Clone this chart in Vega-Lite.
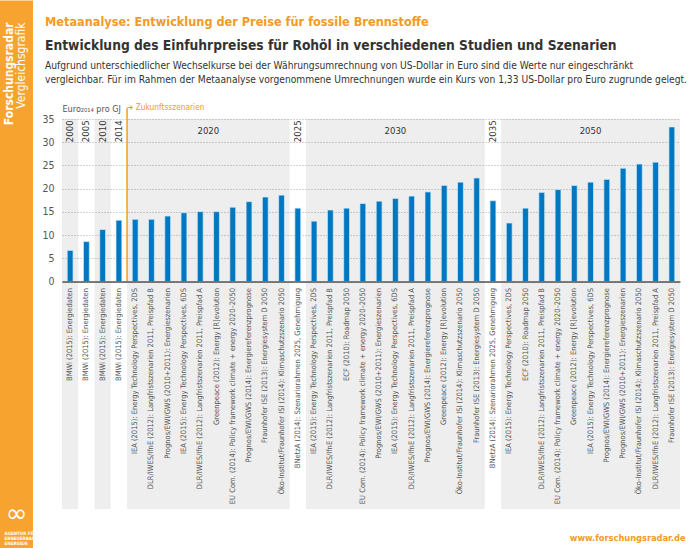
{
 "$schema": "https://vega.github.io/schema/vega-lite/v6.json",
 "background": "white",
 "padding": 0,
 "spacing": 0,
 "config": {
  "font": "DejaVu Sans Condensed, DejaVu Sans, sans-serif",
  "view": {"stroke": null},
  "concat": {"spacing": 0}
 },
 "datasets": {
  "bars": [
   {"x": "2000-01|BMWi (2015): Energiedaten", "v": 6.7},
   {"x": "2005-01|BMWi (2015): Energiedaten", "v": 8.6},
   {"x": "2010-01|BMWi (2015): Energiedaten", "v": 11.2},
   {"x": "2014-01|BMWi (2015): Energiedaten", "v": 13.2},
   {"x": "2020-01|IEA (2015): Energy Technology Perspectives, 2DS", "v": 13.4},
   {"x": "2020-02|DLR/IWES/IfnE (2012): Langfristszenarien 2011, Preispfad B", "v": 13.4},
   {"x": "2020-03|Prognos/EWI/GWS (2010+2011): Energieszenarien", "v": 14.1},
   {"x": "2020-04|IEA (2015): Energy Technology Perspectives, 6DS", "v": 14.8},
   {"x": "2020-05|DLR/IWES/IfnE (2012): Langfristszenarien 2011, Preispfad A", "v": 15.05},
   {"x": "2020-06|Greenpeace (2012): Energy [R]evolution", "v": 15.05},
   {"x": "2020-07|EU Com. (2014): Policy framework climate + energy 2020–2050", "v": 16.0},
   {"x": "2020-08|Prognos/EWI/GWS (2014): Energiereferenzprognose", "v": 17.2},
   {"x": "2020-09|Fraunhofer ISE (2013): Energiesystem D 2050", "v": 18.2},
   {"x": "2020-10|Öko-Institut/Fraunhofer ISI (2014): Klimaschutzszenario 2050", "v": 18.6},
   {"x": "2025-01|BNetzA (2014): Szenariorahmen 2025, Genehmigung", "v": 15.8},
   {"x": "2030-01|IEA (2015): Energy Technology Perspectives, 2DS", "v": 13.0},
   {"x": "2030-02|DLR/IWES/IfnE (2012): Langfristszenarien 2011, Preispfad B", "v": 15.4},
   {"x": "2030-03|ECF (2010): Roadmap 2050", "v": 15.8},
   {"x": "2030-04|EU Com. (2014): Policy framework climate + energy 2020–2050", "v": 16.8},
   {"x": "2030-05|Prognos/EWI/GWS (2010+2011): Energieszenarien", "v": 17.3},
   {"x": "2030-06|IEA (2015): Energy Technology Perspectives, 6DS", "v": 17.9},
   {"x": "2030-07|DLR/IWES/IfnE (2012): Langfristszenarien 2011, Preispfad A", "v": 18.4},
   {"x": "2030-08|Prognos/EWI/GWS (2014): Energiereferenzprognose", "v": 19.3},
   {"x": "2030-09|Greenpeace (2012): Energy [R]evolution", "v": 20.7},
   {"x": "2030-10|Öko-Institut/Fraunhofer ISI (2014): Klimaschutzszenario 2050", "v": 21.4},
   {"x": "2030-11|Fraunhofer ISE (2013): Energiesystem D 2050", "v": 22.3},
   {"x": "2035-01|BNetzA (2014): Szenariorahmen 2025, Genehmigung", "v": 17.4},
   {"x": "2050-01|IEA (2015): Energy Technology Perspectives, 2DS", "v": 12.6},
   {"x": "2050-02|ECF (2010): Roadmap 2050", "v": 15.8},
   {"x": "2050-03|DLR/IWES/IfnE (2012): Langfristszenarien 2011, Preispfad B", "v": 19.2},
   {"x": "2050-04|EU Com. (2014): Policy framework climate + energy 2020–2050", "v": 19.8},
   {"x": "2050-05|Greenpeace (2012): Energy [R]evolution", "v": 20.7},
   {"x": "2050-06|IEA (2015): Energy Technology Perspectives, 6DS", "v": 21.4},
   {"x": "2050-07|Prognos/EWI/GWS (2014): Energiereferenzprognose", "v": 22.0},
   {"x": "2050-08|Prognos/EWI/GWS (2010+2011): Energieszenarien", "v": 24.4},
   {"x": "2050-09|Öko-Institut/Fraunhofer ISI (2014): Klimaschutzszenario 2050", "v": 25.3},
   {"x": "2050-10|DLR/IWES/IfnE (2012): Langfristszenarien 2011, Preispfad A", "v": 25.7},
   {"x": "2050-11|Fraunhofer ISE (2013): Energiesystem D 2050", "v": 33.3}
  ],
  "bands": [
   {"group": "2000", "first": "2000-01|BMWi (2015): Energiedaten", "last": "2000-01|BMWi (2015): Energiedaten"},
   {"group": "2010", "first": "2010-01|BMWi (2015): Energiedaten", "last": "2010-01|BMWi (2015): Energiedaten"},
   {"group": "2020", "first": "2020-01|IEA (2015): Energy Technology Perspectives, 2DS", "last": "2020-10|Öko-Institut/Fraunhofer ISI (2014): Klimaschutzszenario 2050"},
   {"group": "2030", "first": "2030-01|IEA (2015): Energy Technology Perspectives, 2DS", "last": "2030-11|Fraunhofer ISE (2013): Energiesystem D 2050"},
   {"group": "2050", "first": "2050-01|IEA (2015): Energy Technology Perspectives, 2DS", "last": "2050-11|Fraunhofer ISE (2013): Energiesystem D 2050"}
  ],
  "years": [
   {"year": "2000", "at": "2000-01|BMWi (2015): Energiedaten", "kind": "single"},
   {"year": "2005", "at": "2005-01|BMWi (2015): Energiedaten", "kind": "single"},
   {"year": "2010", "at": "2010-01|BMWi (2015): Energiedaten", "kind": "single"},
   {"year": "2014", "at": "2014-01|BMWi (2015): Energiedaten", "kind": "single"},
   {"year": "2025", "at": "2025-01|BNetzA (2014): Szenariorahmen 2025, Genehmigung", "kind": "single"},
   {"year": "2035", "at": "2035-01|BNetzA (2014): Szenariorahmen 2025, Genehmigung", "kind": "single"},
   {"year": "2020", "at": "2020-06|Greenpeace (2012): Energy [R]evolution", "kind": "edge"},
   {"year": "2030", "at": "2030-06|IEA (2015): Energy Technology Perspectives, 6DS", "kind": "center"},
   {"year": "2050", "at": "2050-06|IEA (2015): Energy Technology Perspectives, 6DS", "kind": "center"}
  ],
  "marker": [
   {"at": "2020-01|IEA (2015): Energy Technology Perspectives, 2DS", "label": "➔ Zukunftsszenarien"}
  ]
 },
 "hconcat": [
  {
   "width": 33,
   "height": 429.5,
   "view": {"fill": "#F6A330", "stroke": null},
   "title": {
    "text": "Forschungsradar",
    "subtitle": "Vergleichsgrafik",
    "orient": "left",
    "anchor": "end",
    "frame": "bounds",
    "offset": -28,
    "dx": -22,
    "color": "#ffffff",
    "subtitleColor": "#ffffff",
    "fontSize": 12,
    "subtitleFontSize": 12,
    "fontWeight": "bold",
    "subtitleFontWeight": "normal",
    "subtitlePadding": 0
   },
   "data": {"values": [{"logo": "∞", "name": "AGENTUR FÜR\nERNEUERBARE\nENERGIEN"}]},
   "layer": [
    {
     "mark": {"type": "rect", "color": "#F6A330"},
     "encoding": {
      "y": {"datum": 548, "type": "quantitative", "scale": {"domain": [0, 429.5], "nice": false, "zero": false}, "axis": null},
      "y2": {"datum": 0}
     }
    },
    {
     "mark": {"type": "text", "color": "#ffffff", "fontSize": 26, "font": "DejaVu Sans", "baseline": "middle"},
     "encoding": {
      "y": {"datum": 35, "type": "quantitative"},
      "text": {"field": "logo"}
     }
    },
    {
     "mark": {"type": "text", "color": "#ffffff", "fontSize": 4.5, "fontWeight": "bold", "align": "left", "baseline": "top", "dx": -12, "lineBreak": "\n", "lineHeight": 5},
     "encoding": {
      "y": {"datum": 18, "type": "quantitative"},
      "text": {"field": "name"}
     }
    }
   ]
  },
  {
   "title": {
    "text": ["", "Metaanalyse: Entwicklung der Preise für fossile Brennstoffe"],
    "anchor": "start",
    "dx": 7,
    "offset": 11,
    "fontSize": 12.6,
    "fontWeight": "bold",
    "color": "#F29B23",
    "lineHeight": 12
   },
   "vconcat": [
    {
     "title": {
      "text": "Entwicklung des Einfuhrpreises für Rohöl in verschiedenen Studien und Szenarien",
      "subtitle": [
       "Aufgrund unterschiedlicher Wechselkurse bei der Währungsumrechnung von US-Dollar in Euro sind die Werte nur eingeschränkt",
       "vergleichbar. Für im Rahmen der Metaanalyse vorgenommene Umrechnungen wurde ein Kurs von 1,33 US-Dollar pro Euro zugrunde gelegt."
      ],
      "anchor": "start",
      "dx": 7,
      "offset": 18,
      "fontSize": 13.7,
      "fontWeight": "bold",
      "color": "#333333",
      "subtitleFontSize": 10.2,
      "subtitleColor": "#333333",
      "subtitlePadding": 8,
      "subtitleLineHeight": 14
     },
     "width": 618,
     "height": 162.5,
     "layer": [
      {
       "data": {"name": "bands"},
       "mark": {"type": "rect", "color": "#000000", "opacity": 0.065},
       "encoding": {
        "x": {"field": "first", "type": "nominal", "bandPosition": 0},
        "x2": {"field": "last", "bandPosition": 1},
        "y": {
         "datum": 35,
         "type": "quantitative",
         "scale": {"domain": [0, 35], "nice": false, "zero": true},
         "axis": {
          "title": "Euro₂₀₁₄ pro GJ",
          "titleAngle": 0,
          "titleAlign": "left",
          "titleBaseline": "alphabetic",
          "titleX": 0,
          "titleY": -8,
          "titleFontSize": 9,
          "titleFontWeight": "normal",
          "titleColor": "#555555",
          "values": [0, 5, 10, 15, 20, 25, 30, 35],
          "tickCount": 8,
          "labelOverlap": false,
          "grid": true,
          "gridDash": [1, 2],
          "gridColor": "#aaaaaa",
          "domain": false,
          "ticks": false,
          "labelPadding": 8,
          "labelFontSize": 10.5,
          "labelColor": "#555555",
          "minExtent": 24,
          "maxExtent": 24,
          "zindex": 0
         }
        },
        "y2": {"datum": -49}
       }
      },
      {
       "data": {"name": "bars"},
       "mark": {"type": "bar", "color": "#0078C1", "width": {"band": 0.36}, "stroke": "#d9edf8", "strokeWidth": 0.7},
       "encoding": {
        "x": {
         "field": "x",
         "type": "nominal",
         "scale": {"type": "band", "paddingInner": 0, "paddingOuter": 0},
         "axis": {
          "title": "www.forschungsradar.de",
          "titleColor": "#F29B23",
          "titleFontSize": 9.2,
          "titleFontWeight": "bold",
          "titleAnchor": "end",
          "titleAlign": "right",
          "titleX": 623,
          "titleY": 256,
          "titleBaseline": "middle",
          "labelExpr": "split(datum.label, '|')[1]",
          "labelAngle": -90,
          "labelAlign": "right",
          "labelBaseline": "middle",
          "labelFontSize": 7.5,
          "labelColor": "#555555",
          "labelPadding": 6,
          "labelLimit": 400,
          "labelOverlap": false,
          "ticks": false,
          "grid": false,
          "domainColor": "#555555",
          "domainWidth": 1.5,
          "zindex": 1
         }
        },
        "y": {
         "field": "v",
         "type": "quantitative",
         "scale": {"domain": [0, 35], "nice": false, "zero": true},
         "axis": {
          "title": "Euro₂₀₁₄ pro GJ",
          "titleAngle": 0,
          "titleAlign": "left",
          "titleBaseline": "alphabetic",
          "titleX": 0,
          "titleY": -8,
          "titleFontSize": 9,
          "titleFontWeight": "normal",
          "titleColor": "#555555",
          "values": [0, 5, 10, 15, 20, 25, 30, 35],
          "tickCount": 8,
          "labelOverlap": false,
          "grid": true,
          "gridDash": [1, 2],
          "gridColor": "#aaaaaa",
          "domain": false,
          "ticks": false,
          "labelPadding": 8,
          "labelFontSize": 10.5,
          "labelColor": "#555555",
          "minExtent": 24,
          "maxExtent": 24,
          "zindex": 0
         }
        }
       }
      },
      {
       "data": {"name": "marker"},
       "mark": {"type": "rule", "color": "#F29B23", "strokeWidth": 1.5},
       "encoding": {
        "x": {"field": "at", "type": "nominal", "bandPosition": 0},
        "y": {"datum": 0, "type": "quantitative"},
        "y2": {"datum": 37.3}
       }
      },
      {
       "data": {"name": "marker"},
       "mark": {"type": "text", "color": "#F29B23", "fontSize": 8.3, "align": "left", "baseline": "middle"},
       "encoding": {
        "x": {"field": "at", "type": "nominal", "bandPosition": 0},
        "y": {"datum": 37.3, "type": "quantitative"},
        "text": {"field": "label"}
       }
      },
      {
       "data": {"name": "years"},
       "transform": [{"filter": "datum.kind === 'single'"}],
       "mark": {"type": "text", "angle": 270, "align": "right", "baseline": "middle", "fontSize": 9.5, "color": "#333333"},
       "encoding": {
        "x": {"field": "at", "type": "nominal", "bandPosition": 0.5},
        "y": {"datum": 34.7, "type": "quantitative"},
        "text": {"field": "year"}
       }
      },
      {
       "data": {"name": "years"},
       "transform": [{"filter": "datum.kind === 'edge'"}],
       "mark": {"type": "text", "align": "center", "baseline": "middle", "fontSize": 9.5, "color": "#333333"},
       "encoding": {
        "x": {"field": "at", "type": "nominal", "bandPosition": 0},
        "y": {"datum": 32.4, "type": "quantitative"},
        "text": {"field": "year"}
       }
      },
      {
       "data": {"name": "years"},
       "transform": [{"filter": "datum.kind === 'center'"}],
       "mark": {"type": "text", "align": "center", "baseline": "middle", "fontSize": 9.5, "color": "#333333"},
       "encoding": {
        "x": {"field": "at", "type": "nominal", "bandPosition": 0.5},
        "y": {"datum": 32.4, "type": "quantitative"},
        "text": {"field": "year"}
       }
      }
     ]
    }
   ]
  }
 ]
}
